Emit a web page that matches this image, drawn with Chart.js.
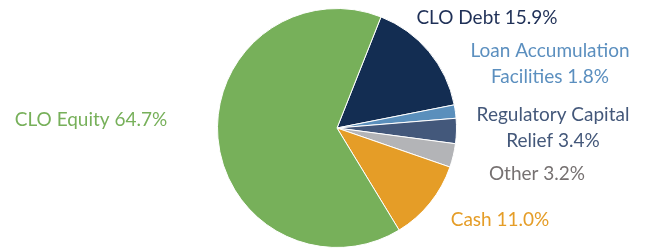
<!DOCTYPE html>
<html>
<head>
<meta charset="utf-8">
<script src="https://cdn.jsdelivr.net/npm/chart.js@4"></script>
<style>
  html, body { margin: 0; padding: 0; background: #fff; }
  #wrap { width: 646px; height: 248px; }
</style>
</head>
<body>
<div id="wrap"><canvas id="chartContainer" width="646" height="248"></canvas></div>
<script>
const categories = ['CLO Debt', 'Loan Accumulation Facilities', 'Regulatory Capital Relief', 'Other', 'Cash', 'CLO Equity'];
const shares = [15.9, 1.8, 3.4, 3.2, 11.0, 64.7];
const sliceColors = ['#132d52', '#5a8fbc', '#43587b', '#b3b4b7', '#e59d27', '#77b05a'];
const textColors = ['#1f3057', '#5b8fbf', '#44587a', '#767171', '#e59d27', '#77b05a'];

// where each label sits and how it wraps
const labelLayout = [
    { x: 487, y: 18, lines: ['CLO Debt {v}'] },
    { x: 550, y: 51, lines: ['Loan Accumulation', 'Facilities {v}'] },
    { x: 553, y: 115, lines: ['Regulatory Capital', 'Relief {v}'] },
    { x: 537, y: 174, lines: ['Other {v}'] },
    { x: 500, y: 220, lines: ['Cash {v}'] },
    { x: 91, y: 120, lines: ['CLO Equity {v}'] }
];

const sliceLabels = {
    id: 'sliceLabels',
    afterDraw(chart) {
        const ctx = chart.ctx;
        ctx.save();
        ctx.font = '19px Lato';
        ctx.textAlign = 'center';
        ctx.textBaseline = 'middle';
        labelLayout.forEach((lab, i) => {
            ctx.fillStyle = textColors[i];
            lab.lines.forEach((line, j) => {
                const txt = line.replace('{v}', shares[i].toFixed(1) + '%');
                ctx.fillText(txt, lab.x, lab.y + j * 26);
            });
        });
        ctx.restore();
    }
};

function displayChart() {
    const chartContainer = document.getElementById('chartContainer');
    new Chart(chartContainer, {
        type: 'pie',
        data: {
            labels: categories,
            datasets: [{
                data: shares,
                backgroundColor: sliceColors,
                borderColor: '#ffffff',
                borderWidth: 1
            }]
        },
        options: {
            responsive: false,
            animation: false,
            rotation: 21.6,
            layout: { padding: { left: 28, right: 0, top: 8, bottom: 0 } },
            plugins: {
                legend: { display: false },
                tooltip: { enabled: false }
            }
        },
        plugins: [sliceLabels]
    });
}

window.onload = function() {
    displayChart();
};
</script>
</body>
</html>
